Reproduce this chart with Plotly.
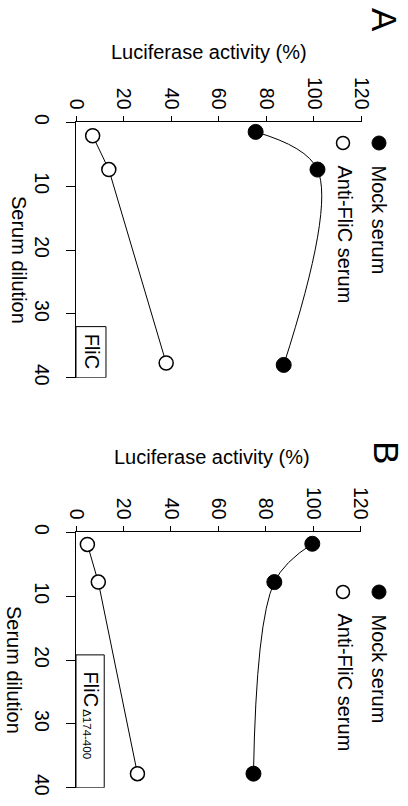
import plotly.graph_objects as go

# ---------------- data ----------------
lum_ticks = [0, 20, 40, 60, 80, 100, 120]
dil_ticks = [0, 10, 20, 30, 40]

a_mock_dil = [1.5, 7.4, 38.0]
a_mock_lum = [75.5, 101.5, 87.3]
a_anti_dil = [2.1, 7.4, 37.7]
a_anti_lum = [7.0, 13.8, 37.9]

b_mock_dil = [1.8, 7.8, 37.8]
b_mock_lum = [99.6, 83.6, 74.8]
b_anti_dil = [1.9, 7.8, 37.8]
b_anti_lum = [4.8, 9.4, 25.9]

series_names = ["Mock serum", "Anti-FliC serum"]
panel_labels = ["A", "B"]
box_labels = ["FliC", "FliC"]
box_sub = ["", "Δ174-400"]
x_title = "Luciferase activity (%)"
y_title = "Serum dilution"

# ---------------- layout helpers ----------------
W, H = 408, 806
FONT = "Liberation Sans, Arial, sans-serif"
FS = 20


def px(x):
    return x / W


def py(y):
    return 1 - y / H


fig = go.Figure()

panels = [
    dict(mock=(a_mock_lum, a_mock_dil), anti=(a_anti_lum, a_anti_dil),
         xa="x", ya="y", top=122.3, bot=377.7, left=76, right=361.5),
    dict(mock=(b_mock_lum, b_mock_dil), anti=(b_anti_lum, b_anti_dil),
         xa="x2", ya="y2", top=532.3, bot=787.7, left=76, right=360.7),
]

for p in panels:
    fig.add_trace(go.Scatter(
        x=p["mock"][0], y=p["mock"][1], xaxis=p["xa"], yaxis=p["ya"],
        mode="lines+markers", line=dict(color="black", width=1, shape="spline", smoothing=1),
        marker=dict(size=15, color="black", line=dict(color="black", width=1)),
        cliponaxis=False, showlegend=False, name=series_names[0]))
    fig.add_trace(go.Scatter(
        x=p["anti"][0], y=p["anti"][1], xaxis=p["xa"], yaxis=p["ya"],
        mode="lines+markers", line=dict(color="black", width=1),
        marker=dict(size=14, color="white", line=dict(color="black", width=1.5)),
        cliponaxis=False, showlegend=False, name=series_names[1]))

axis_common = dict(showline=True, linecolor="black", linewidth=1, ticks="outside",
                   tickcolor="black", tickwidth=1, showgrid=False, zeroline=False,
                   tickfont=dict(family=FONT, size=19.5, color="black"),
                   tickangle=90, automargin=False, fixedrange=True)

layout = dict(width=W, height=H, margin=dict(l=0, r=0, t=0, b=0),
              paper_bgcolor="white", plot_bgcolor="white", showlegend=False,
              font=dict(family=FONT, size=FS, color="black"))

for i, p in enumerate(panels):
    xk = "xaxis" if i == 0 else "xaxis2"
    yk = "yaxis" if i == 0 else "yaxis2"
    layout[xk] = dict(axis_common, domain=[px(p["left"]), px(p["right"])], range=[0, 120],
                      side="top", anchor=p["ya"], tickvals=lum_ticks, ticklen=5)
    layout[yk] = dict(axis_common, domain=[py(p["bot"]), py(p["top"])], range=[40, 0],
                      side="left", anchor=p["xa"], tickvals=dil_ticks, ticklen=9,
                      ticklabelstandoff=8)

fig.update_layout(**layout)

annotations = []
shapes = []
# per-panel decorations
title_y = [51.5, 457]
title_x = [209, 212]
dil_title_x = [19, 14]
panel_label_pos = [(385, 20), (386, 452)]
legend_y = [143, 592]
legend_text_y = [(219.5, 234.5), (668.5, 682.5)]
box_rng = [(12.6, 32.0), (11.9, 19.2)]
box_text = [(6.5, 36.0), (6.5, 24.7)]
sub_text = [None, (4.6, 31.6)]

for i, p in enumerate(panels):
    annotations.append(dict(text=x_title, x=px(title_x[i]), y=py(title_y[i]), xref="paper", yref="paper",
                            xanchor="center", yanchor="middle", showarrow=False,
                            font=dict(size=20)))
    annotations.append(dict(text=y_title, x=px(dil_title_x[i]), y=py((p["top"] + p["bot"]) / 2 + 10),
                            xref="paper", yref="paper", textangle=90,
                            xanchor="center", yanchor="middle", showarrow=False,
                            font=dict(size=FS)))
    lx, ly = panel_label_pos[i]
    annotations.append(dict(text=panel_labels[i], x=px(lx), y=py(ly), xref="paper", yref="paper",
                            textangle=90, xanchor="center", yanchor="middle", showarrow=False,
                            font=dict(size=35)))
    # legend
    shapes.append(dict(type="circle", xref="paper", yref="paper", xsizemode="pixel",
                       ysizemode="pixel", xanchor=px(379), yanchor=py(legend_y[i]),
                       x0=-7, x1=7, y0=-7, y1=7, fillcolor="black",
                       line=dict(color="black", width=1)))
    shapes.append(dict(type="circle", xref="paper", yref="paper", xsizemode="pixel",
                       ysizemode="pixel", xanchor=px(343), yanchor=py(legend_y[i]),
                       x0=-6.5, x1=6.5, y0=-6.5, y1=6.5, fillcolor="white",
                       line=dict(color="black", width=1.5)))
    annotations.append(dict(text=series_names[0], x=px(379), y=py(legend_text_y[i][0]),
                            xref="paper", yref="paper", textangle=90, xanchor="center",
                            yanchor="middle", showarrow=False, font=dict(size=FS)))
    annotations.append(dict(text=series_names[1], x=px(345), y=py(legend_text_y[i][1]),
                            xref="paper", yref="paper", textangle=90, xanchor="center",
                            yanchor="middle", showarrow=False, font=dict(size=FS)))
    # box
    bx, by = box_rng[i]
    shapes.append(dict(type="rect", xref=p["xa"], yref=p["ya"], x0=0, x1=bx, y0=by, y1=40,
                       line=dict(color="black", width=1), fillcolor="rgba(0,0,0,0)"))
    tx, ty = box_text[i]
    annotations.append(dict(text=box_labels[i], x=tx, y=ty, xref=p["xa"], yref=p["ya"],
                            textangle=90, xanchor="center", yanchor="middle",
                            showarrow=False, font=dict(size=FS)))
    if box_sub[i]:
        sx, sy = sub_text[i]
        annotations.append(dict(text=box_sub[i], x=sx, y=sy, xref=p["xa"], yref=p["ya"],
                                textangle=90, xanchor="center", yanchor="middle",
                                showarrow=False, font=dict(size=11.5)))

fig.update_layout(annotations=annotations, shapes=shapes)
fig.write_html("out.html", config={"displayModeBar": False},
               post_script="document.body.style.margin='0';document.body.style.overflow='hidden';")
